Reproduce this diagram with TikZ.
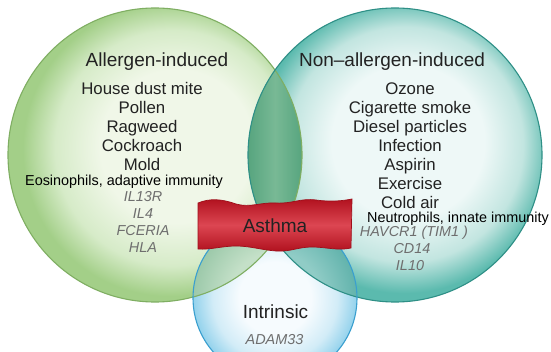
\documentclass[tikz,border=0pt]{standalone}
\usepackage{fontspec}
\setmainfont{Liberation Sans}
\definecolor{lcen}{HTML}{F0F7E8}
\definecolor{lmid}{HTML}{D6EBC8}
\definecolor{ledge}{HTML}{A3CF88}
\definecolor{lline}{HTML}{7FAE62}
\definecolor{rcen}{HTML}{EEF8F7}
\definecolor{rmid}{HTML}{C2E5E0}
\definecolor{redge}{HTML}{5BBAAE}
\definecolor{rline}{HTML}{2E8F86}
\definecolor{bcen}{HTML}{F6FBFE}
\definecolor{bmid}{HTML}{D2ECF7}
\definecolor{bedge}{HTML}{93D2EC}
\definecolor{bline}{HTML}{3A9FCF}
\definecolor{lrcen}{HTML}{78B995}
\definecolor{lredge}{HTML}{56A47E}
\definecolor{lbcen}{HTML}{C4E0C8}
\definecolor{lbedge}{HTML}{9CC9AA}
\definecolor{rbcen}{HTML}{90CCC6}
\definecolor{rbedge}{HTML}{62B3AC}
\definecolor{banmid}{HTML}{DC4652}
\definecolor{banedge}{HTML}{B0101D}
\definecolor{banline}{HTML}{9E0E1A}
\definecolor{maintext}{HTML}{222222}
\definecolor{genetext}{HTML}{6E6E6E}
\pgfdeclareradialshading{lshade}{\pgfpoint{5bp}{2bp}}{color(0bp)=(lcen); color(13bp)=(lcen); color(20bp)=(lmid); color(25bp)=(ledge); color(50bp)=(ledge)}
\pgfdeclareradialshading{rshade}{\pgfpoint{3bp}{3bp}}{color(0bp)=(rcen); color(13bp)=(rcen); color(20bp)=(rmid); color(25bp)=(redge); color(50bp)=(redge)}
\pgfdeclareradialshading{bshade}{\pgfpoint{0bp}{0bp}}{color(0bp)=(bcen); color(11bp)=(bcen); color(19bp)=(bmid); color(25bp)=(bedge); color(50bp)=(bedge)}
\pgfdeclareradialshading{lbshade}{\pgfpoint{0bp}{0bp}}{color(0bp)=(lbcen); color(14bp)=(lbcen); color(25bp)=(lbedge); color(50bp)=(lbedge)}
\pgfdeclareradialshading{rbshade}{\pgfpoint{0bp}{0bp}}{color(0bp)=(rbcen); color(14bp)=(rbcen); color(25bp)=(rbedge); color(50bp)=(rbedge)}
\begin{document}
\begin{tikzpicture}[x=1pt,y=-1pt,
  heading/.style={font=\fontsize{19}{19}\selectfont, text=maintext, anchor=base, inner sep=0pt},
  itemtext/.style={font=\fontsize{16.8}{19}\selectfont, text=maintext, anchor=base, inner sep=0pt},
  notetext/.style={font=\fontsize{14.4}{15}\selectfont, text=black, anchor=base, inner sep=0pt},
  genetext/.style={font=\fontsize{14.4}{15}\selectfont\itshape, text=genetext, anchor=base, inner sep=0pt},
  ring/.style={line width=1.1pt}
]
\useasboundingbox (0,0) rectangle (551,352);
\fill[white] (0,0) rectangle (551,352);
\coordinate (L) at (155,155);
\coordinate (R) at (395,155);
\coordinate (B) at (275,298);
% circles
\shade[shading=lshade] (L) circle (147);
\shade[shading=rshade] (R) circle (147);
\shade[shading=bshade] (B) circle (82);
% overlaps
\begin{scope}
  \clip (L) circle (147);
  \clip (R) circle (147);
  \shade[left color=lredge, right color=lredge, middle color=lrcen] (247,0) rectangle (303,352);
\end{scope}
\begin{scope}
  \clip (L) circle (147);
  \shade[shading=lbshade] (B) circle (82);
\end{scope}
\begin{scope}
  \clip (R) circle (147);
  \shade[shading=rbshade] (B) circle (82);
\end{scope}
% outlines
\draw[ring, lline] (L) circle (147);
\draw[ring, rline] (R) circle (147);
\draw[ring, bline] (B) circle (82);
% banner
\shade[top color=banedge, bottom color=banedge, middle color=banmid, draw=banline, line width=0.7pt]
  (198,203) .. controls (210,198) and (222,199) .. (236,204)
  .. controls (250,208) and (262,202) .. (276,203)
  .. controls (292,204) and (300,198) .. (316,200)
  .. controls (330,202) and (342,201) .. (352,199)
  -- (351,248)
  .. controls (338,251) and (326,247) .. (312,247)
  .. controls (298,247) and (290,252) .. (276,251)
  .. controls (262,250) and (250,246) .. (236,246)
  .. controls (222,246) and (210,250) .. (198,249) -- cycle;
\node[heading] (asthma) at (275,233) {Asthma};
% headings
\node[heading] (allergen) at (157,67) {Allergen-induced};
\node[heading] (nonallergen) at (392,67) {Non–allergen-induced};
\node[heading] (intrinsic) at (275.5,319) {Intrinsic};
% left items
\foreach \t [count=\i] in {House dust mite, Pollen, Ragweed, Cockroach, Mold}
  \node[itemtext] (al\i) at (142, 75.5+19*\i) {\t};
\node[notetext] (eos) at (124,186) {Eosinophils, adaptive immunity};
\foreach \t [count=\i] in {IL13R, IL4, FCERIA, HLA}
  \node[genetext] (lg\i) at (143, 185+17*\i) {\t};
% right items
\foreach \t [count=\i] in {Ozone, Cigarette smoke, Diesel particles, Infection, Aspirin, Exercise, Cold air}
  \node[itemtext] (nr\i) at (410, 75.5+19*\i) {\t};
\node[notetext] (neu) at (458,223) {Neutrophils, innate immunity};
\node[genetext] (rg1) at (414,237) {HAVCR1 (TIM1 )};
\node[genetext] (rg2) at (412,254) {CD14};
\node[genetext] (rg3) at (410,271) {IL10};
% intrinsic gene
\node[genetext] (ig1) at (274.5,344) {ADAM33};
\end{tikzpicture}
\end{document}
